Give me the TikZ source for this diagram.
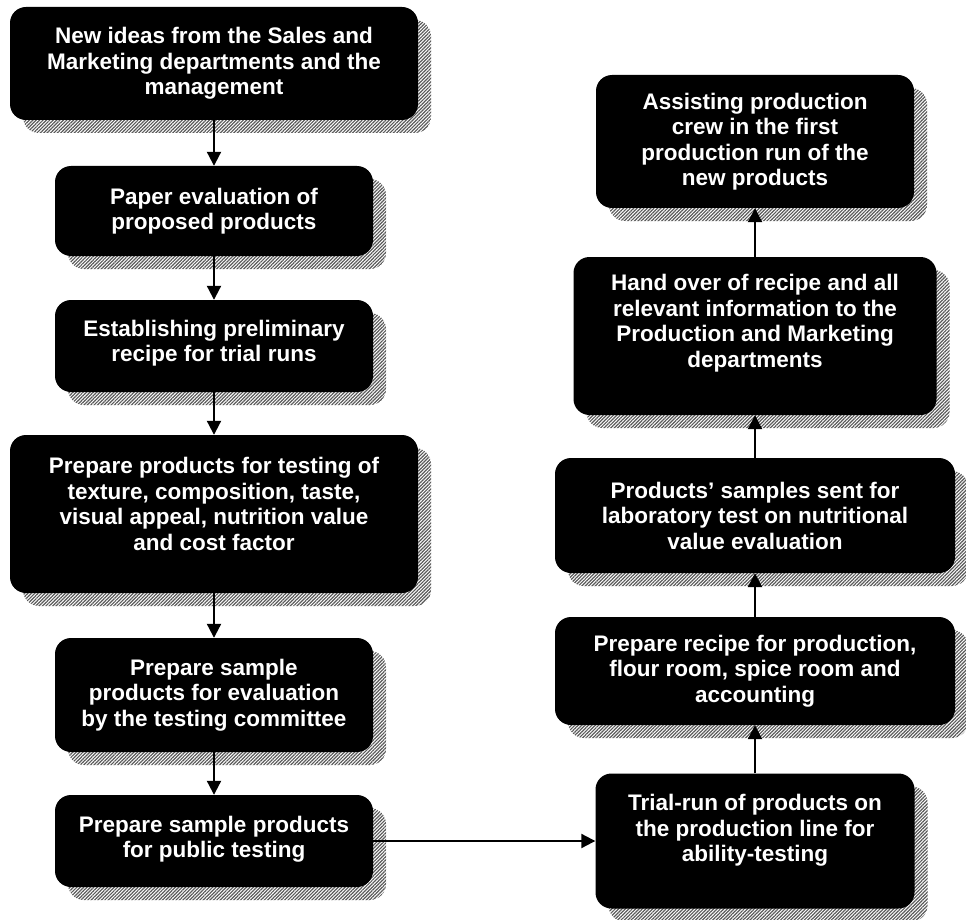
\documentclass[tikz,border=0pt]{standalone}
\usepackage{fontspec}
\setmainfont{Liberation Sans}
\usetikzlibrary{arrows.meta,shadows,patterns.meta}
\newcommand{\lowpad}[1]{\rule[-#1]{0pt}{#1}}

\begin{document}
\begin{tikzpicture}[
x=1pt,
y=-1pt,
every node/.style={font=\bfseries\fontsize{22.5}{25.5}\selectfont},
stage/.style={rectangle,rounded corners=16pt,fill=black,text=white,align=center,inner sep=0pt,
  drop shadow={shadow xshift=13pt,shadow yshift=-13pt,opacity=1,
    pattern={Lines[angle=45,distance=2.4pt,line width=1.2pt]},pattern color=black!65}},
arr/.style={-{Triangle[length=14pt,width=14pt]},line width=2.1pt}
]
\useasboundingbox (0,0) rectangle (966,920);
% left column, going down
\node[stage,minimum width=408pt,minimum height=113pt] (ideas) at (214,63.5) {New ideas from the Sales and\\Marketing departments and the\\management};
\node[stage,minimum width=318pt,minimum height=90pt] (paper) at (214,211) {Paper evaluation of\\proposed products};
\node[stage,minimum width=318pt,minimum height=92pt] (prelim) at (214,346) {Establishing preliminary\\recipe for trial runs\lowpad{10pt}};
\node[stage,minimum width=408pt,minimum height=158pt] (prepare) at (214,514) {Prepare products for testing of\\texture, composition, taste,\\visual appeal, nutrition value\\and cost factor\lowpad{20pt}};
\node[stage,minimum width=318pt,minimum height=114pt] (samples) at (214,695) {Prepare sample\\products for evaluation\\by the testing committee};
\node[stage,minimum width=318pt,minimum height=92pt] (public) at (214,841) {Prepare sample products\\for public testing\lowpad{8pt}};

% right column, going up
\node[stage,minimum width=319pt,minimum height=135pt] (trial) at (755,841) {Trial-run of products on\\the production line for\\ability-testing\lowpad{26pt}};
\node[stage,minimum width=400pt,minimum height=108pt] (recipe) at (755,671) {Prepare recipe for production,\\flour room, spice room and\\accounting};
\node[stage,minimum width=400pt,minimum height=115pt] (labtest) at (755,515.5) {Products’ samples sent for\\laboratory test on nutritional\\value evaluation};
\node[stage,minimum width=363pt,minimum height=158pt] (handover) at (755,336) {Hand over of recipe and all\\relevant information to the\\Production and Marketing\\departments\lowpad{30pt}};
\node[stage,minimum width=318pt,minimum height=133pt] (assist) at (755,141.5) {Assisting production\\crew in the first\\production run of the\\new products};

\draw[arr] (ideas) -- (paper);
\draw[arr] (paper) -- (prelim);
\draw[arr] (prelim) -- (prepare);
\draw[arr] (prepare) -- (samples);
\draw[arr] (samples) -- (public);
\draw[arr] (public) -- (trial);
\draw[arr] (trial) -- (recipe);
\draw[arr] (recipe) -- (labtest);
\draw[arr] (labtest) -- (handover);
\draw[arr] (handover) -- (assist);
\end{tikzpicture}
\end{document}
